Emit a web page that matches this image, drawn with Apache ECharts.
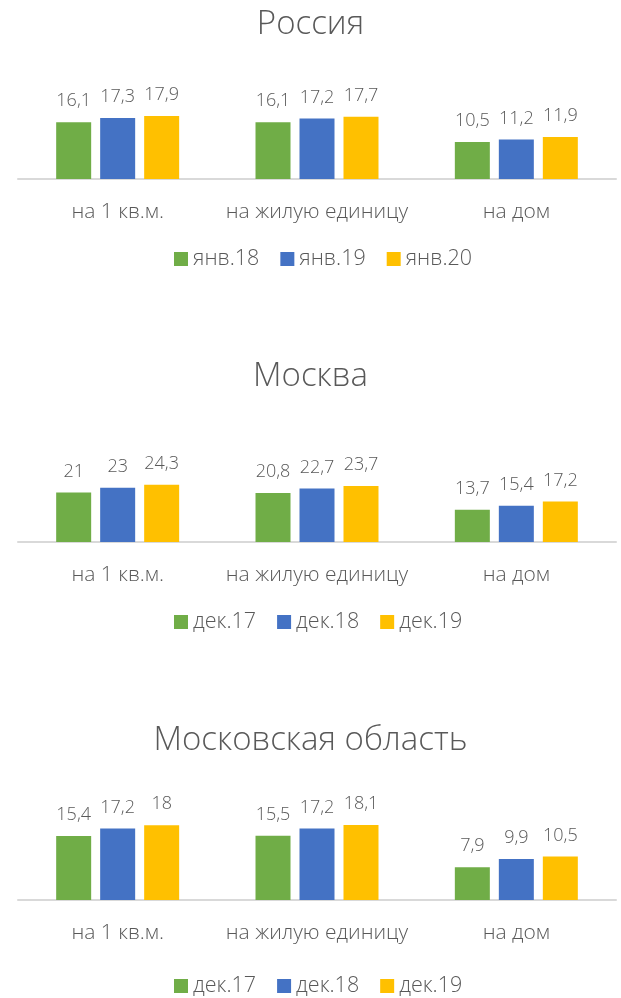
<!DOCTYPE html>
<html>
<head>
<meta charset="utf-8">
<script src="https://cdn.jsdelivr.net/npm/echarts@6/dist/echarts.min.js"></script>
<style>
  html, body { margin: 0; padding: 0; background: #fff; }
  #main { width: 621px; height: 998px; }
</style>
</head>
<body>
<div id="main"></div>
<script>
// категории
var categories = ["на 1 кв.м.", "на жилую единицу", "на дом"];

// Россия
var russiaTitle = "Россия";
var russiaSeriesNames = ["янв.18", "янв.19", "янв.20"];
var russiaJan18 = [16.1, 16.1, 10.5];
var russiaJan19 = [17.3, 17.2, 11.2];
var russiaJan20 = [17.9, 17.7, 11.9];

// Москва
var moscowTitle = "Москва";
var moscowSeriesNames = ["дек.17", "дек.18", "дек.19"];
var moscowDec17 = [21, 20.8, 13.7];
var moscowDec18 = [23, 22.7, 15.4];
var moscowDec19 = [24.3, 23.7, 17.2];

// Московская область
var regionTitle = "Московская область";
var regionSeriesNames = ["дек.17", "дек.18", "дек.19"];
var regionDec17 = [15.4, 15.5, 7.9];
var regionDec18 = [17.2, 17.2, 9.9];
var regionDec19 = [18, 18.1, 10.5];

var colors = ["#70AD47", "#4472C4", "#FFC000"];
var fontFamily = "'Open Sans', 'Noto Sans', sans-serif";
var textColor = "#595959";

// панели: заголовок, ось, легенда (в пикселях)
var panels = [
  { title: russiaTitle, names: russiaSeriesNames, data: [russiaJan18, russiaJan19, russiaJan20],
    titleTop: 3, gridTop: 108.6, gridHeight: 70.4, max: 20, legendTop: 243 },
  { title: moscowTitle, names: moscowSeriesNames, data: [moscowDec17, moscowDec18, moscowDec19],
    titleTop: 355, gridTop: 471.2, gridHeight: 70.8, max: 30, legendTop: 606 },
  { title: regionTitle, names: regionSeriesNames, data: [regionDec17, regionDec18, regionDec19],
    titleTop: 719, gridTop: 817, gridHeight: 83, max: 20, legendTop: 970 }
];

var myChart = echarts.init(document.getElementById("main"), null, { renderer: "canvas" });

var option = {
  backgroundColor: "#fff",
  animation: false,
  color: colors,
  title: [],
  legend: [],
  grid: [],
  xAxis: [],
  yAxis: [],
  series: []
};

panels.forEach(function (p, i) {
  option.title.push({
    text: p.title,
    left: "center",
    top: p.titleTop,
    textStyle: { fontFamily: fontFamily, fontWeight: 300, fontSize: 33, color: textColor }
  });
  option.legend.push({
    data: p.names,
    left: 169,
    top: p.legendTop,
    icon: "rect",
    itemWidth: 14,
    itemHeight: 14,
    itemGap: 21,
    textStyle: { fontFamily: fontFamily, fontWeight: 300, fontSize: 21.5, color: textColor }
  });
  option.grid.push({ left: 18, right: 5, top: p.gridTop, height: p.gridHeight });
  option.xAxis.push({
    type: "category",
    gridIndex: i,
    data: categories,
    axisLine: { lineStyle: { color: "#D9D9D9", width: 2 } },
    axisTick: { show: false },
    axisLabel: { interval: 0, margin: 23, fontFamily: fontFamily, fontWeight: 300, fontSize: 21, color: textColor }
  });
  option.yAxis.push({
    type: "value",
    gridIndex: i,
    min: 0,
    max: p.max,
    show: false,
    splitLine: { show: false }
  });
  p.names.forEach(function (name, k) {
    option.series.push({
      name: name,
      type: "bar",
      xAxisIndex: i,
      yAxisIndex: i,
      barWidth: 35,
      barGap: "25.7%",
      itemStyle: { color: colors[k] },
      label: {
        show: true,
        position: "top",
        distance: 12,
        fontFamily: fontFamily,
        fontWeight: 300,
        fontSize: 18,
        color: textColor,
        formatter: function (params) {
          return String(params.value).replace(".", ",");
        }
      },
      data: p.data[k]
    });
  });
});

myChart.setOption(option);
</script>
</body>
</html>
